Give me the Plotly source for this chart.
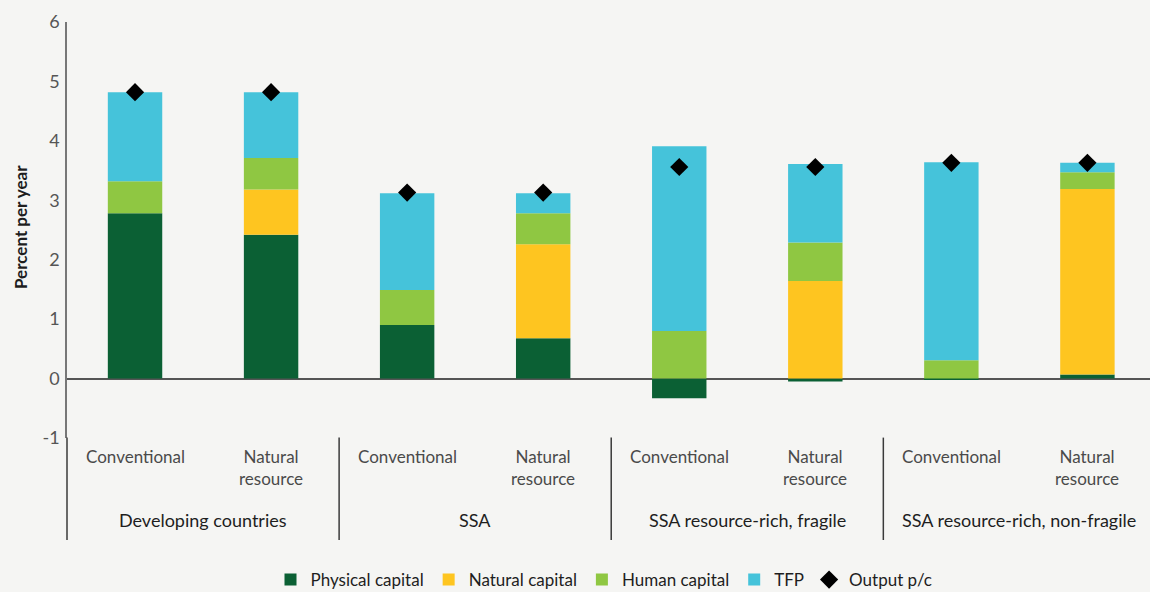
import plotly.graph_objects as go

# ---- data ----
groups = ["Developing countries", "SSA", "SSA resource-rich, fragile", "SSA resource-rich, non-fragile"]
subcats = ["Conventional", "Natural<br>resource"]
physical = [2.78, 2.42, 0.90, 0.68, -0.33, -0.05, -0.02, 0.07]
natural = [0.00, 0.76, 0.00, 1.58, 0.00, 1.64, 0.00, 3.12]
human = [0.54, 0.53, 0.59, 0.52, 0.80, 0.65, 0.31, 0.28]
tfp = [1.50, 1.11, 1.63, 0.34, 3.11, 1.32, 3.33, 0.16]
output_pc = [4.82, 4.82, 3.13, 3.13, 3.56, 3.56, 3.63, 3.63]
y_ticks = [-1, 0, 1, 2, 3, 4, 5, 6]
y_ticktext = ["-1", "0", "1", "2", "3", "4", "5", "6"]

FONT = "Lato, Roboto, sans-serif"
BG = "#f5f5f3"
W, H = 1150, 592
ML, MR, MT, MB = 67, 0, 22, 154
XR = [-0.5, 7.46]
YR = [-1, 6]

n = len(physical)
xs = list(range(n))

fig = go.Figure()
series = [
    ("Physical capital", physical, "#0b6034"),
    ("Natural capital", natural, "#fec520"),
    ("Human capital", human, "#8fc742"),
    ("TFP", tfp, "#45c3da"),
]
for name, vals, col in series:
    fig.add_trace(go.Bar(
        x=xs, y=vals, name=name, width=0.40,
        marker=dict(color=col, line=dict(width=0)),
    ))
fig.add_trace(go.Scatter(
    x=xs, y=output_pc, name="Output p/c", mode="markers",
    marker=dict(symbol="diamond", size=14, color="#000000"),
    cliponaxis=False,
))

pw = W - ML - MR
ph = H - MT - MB

def px_x(xv):
    return (xv - XR[0]) / (XR[1] - XR[0])

def px_y(pix):
    return (H - MB - pix) / ph

annotations = []
for i in range(n):
    annotations.append(dict(
        x=i, xref="x", y=px_y(444), yref="paper", yanchor="top",
        text=subcats[i % 2], showarrow=False, align="center",
        font=dict(family=FONT, size=17, color="#4a4a4a"),
    ))
for g, label in enumerate(groups):
    annotations.append(dict(
        x=2 * g + 0.5, xref="x", y=px_y(520), yref="paper", yanchor="middle",
        text=label, showarrow=False,
        font=dict(family=FONT, size=18, color="#1e1e1e"),
    ))
annotations.append(dict(
    x=(20 - ML) / pw, xref="paper", y=px_y(227), yref="paper",
    text="<b>Percent per year</b>", textangle=-90, showarrow=False,
    xanchor="center", yanchor="middle",
    font=dict(family=FONT, size=17, color="#1e1e1e"),
))

shapes = []
for xv in [-0.5, 1.5, 3.5, 5.5]:
    xp = px_x(xv)
    shapes.append(dict(
        type="line", xref="paper", yref="paper",
        x0=xp, x1=xp, y0=px_y(437.6), y1=px_y(540),
        line=dict(color="#3a3a3a", width=1.5),
    ))

fig.update_layout(
    width=W, height=H,
    margin=dict(l=ML, r=MR, t=MT, b=MB, autoexpand=False),
    barmode="relative",
    paper_bgcolor=BG, plot_bgcolor=BG,
    font=dict(family=FONT, color="#333"),
    xaxis=dict(range=XR, showticklabels=False, showgrid=False, zeroline=False,
               showline=False, ticks=""),
    yaxis=dict(range=YR, tickvals=y_ticks, ticktext=y_ticktext, showgrid=False, zeroline=True,
               zerolinecolor="#555555", zerolinewidth=1.5,
               showline=True, linecolor="#777777", linewidth=1.5,
               ticks="", ticklabelstandoff=2,
               tickfont=dict(family=FONT, size=18, color="#555555")),
    legend=dict(orientation="h", x=(604 - ML) / pw, xanchor="center",
                y=px_y(580), yanchor="middle",
                font=dict(family=FONT, size=17, color="#1e1e1e"),
                bgcolor="rgba(0,0,0,0)", itemclick=False, itemwidth=30),
    annotations=annotations,
    shapes=shapes,
    showlegend=True,
)

post = (
    "var s=document.createElement('style');"
    "s.textContent='html,body{margin:0;padding:0;overflow:hidden}';"
    "document.head.appendChild(s);"
)

fig.write_html("out.html", post_script=post, config={"displayModeBar": False})
